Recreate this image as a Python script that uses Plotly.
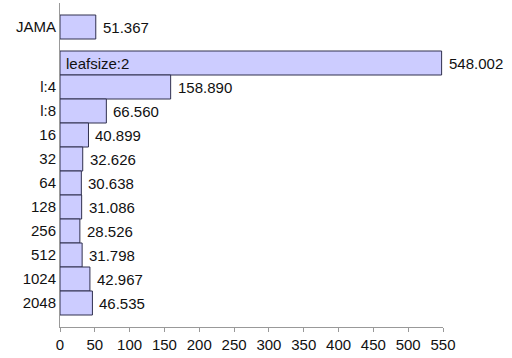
import plotly.graph_objects as go

# Data
sweep_labels = ["leafsize:2", "l:4", "l:8", "16", "32", "64", "128", "256", "512", "1024", "2048"]
sweep_values = [548.002, 158.890, 66.560, 40.899, 32.626, 30.638, 31.086, 28.526, 31.798, 42.967, 46.535]
baseline_label = "JAMA"
baseline_value = 51.367
x_ticks = [0, 50, 100, 150, 200, 250, 300, 350, 400, 450, 500, 550]

GAP = 1.5  # distance (in rows) between the baseline row and the sweep block

sweep_pos = list(range(len(sweep_labels)))
base_pos = -GAP

all_pos = [base_pos] + sweep_pos
all_vals = [baseline_value] + sweep_values
# first sweep label is drawn inside its bar, so the axis shows nothing there
tick_text = [baseline_label, ""] + sweep_labels[1:]

FONT = "Liberation Sans, Arial, sans-serif"
FS = 15
TXT = "#111111"
fig = go.Figure()
fig.add_trace(go.Bar(
    x=all_vals,
    y=all_pos,
    orientation="h",
    width=1.0,
    marker=dict(color="#ccccff", line=dict(color="#30304f", width=1)),
    cliponaxis=False,
    hoverinfo="skip",
))

for v, p in zip(all_vals, all_pos):
    fig.add_annotation(
        x=v, y=p, xref="x", yref="y", text=f"{v:.3f}", showarrow=False,
        xanchor="left", yanchor="middle", xshift=5,
        font=dict(family=FONT, size=FS, color=TXT),
    )

fig.add_annotation(
    x=0, y=sweep_pos[0], xref="x", yref="y",
    text=sweep_labels[0], showarrow=False,
    xanchor="left", yanchor="middle", xshift=4,
    font=dict(family=FONT, size=FS, color=TXT),
)

fig.update_layout(
    width=512, height=358,
    margin=dict(l=60, r=69, t=3, b=31),
    paper_bgcolor="white", plot_bgcolor="white",
    showlegend=False,
    font=dict(family=FONT, size=FS, color=TXT),
)
fig.update_xaxes(
    range=[0, 550], tickvals=x_ticks, ticktext=[str(t) for t in x_ticks],
    showgrid=False, zeroline=False, automargin=False,
    showline=True, linecolor="#999999", linewidth=1,
    ticks="outside", ticklen=4, tickcolor="#999999", tickwidth=1,
    tickfont=dict(family=FONT, size=FS, color=TXT),
)
fig.update_yaxes(
    range=[11, -2.5], tickvals=all_pos, ticktext=tick_text,
    showgrid=False, zeroline=False, automargin=False,
    showline=True, linecolor="#999999", linewidth=1,
    ticks="", ticklabelstandoff=0,
    tickfont=dict(family=FONT, size=FS, color=TXT),
)

fig.write_html(
    "out.html",
    config={"displayModeBar": False},
    post_script="document.body.style.margin='0';document.body.style.overflow='hidden';",
)
